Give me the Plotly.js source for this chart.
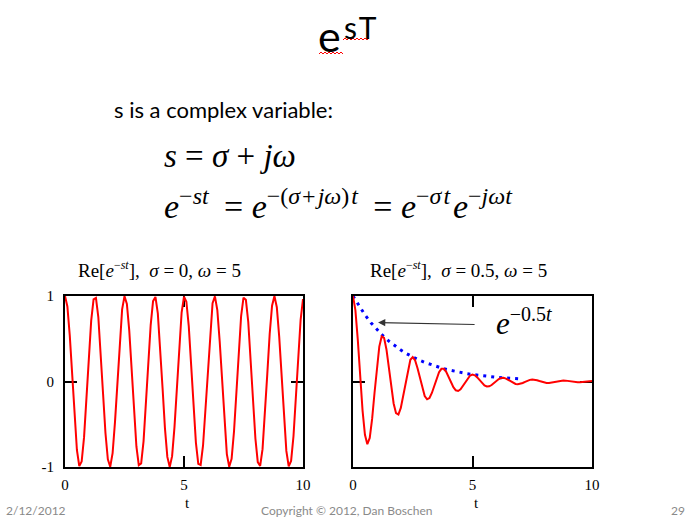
<!DOCTYPE html>
<html>
<head>
<meta charset="utf-8">
<script src="https://cdn.plot.ly/plotly-3.0.1.min.js"></script>
<style>
  html, body { margin: 0; padding: 0; background: #ffffff; }
  #chart { width: 694px; height: 530px; }
</style>
</head>
<body>
<div id="chart"></div>
<script>
// Sample times, t = 0 … 10 in steps of 0.1
const t = [];
for (let k = 0; k <= 100; k++) t.push(+(k * 0.1).toFixed(1));

// Re[e^{-st}] with sigma = 0, omega = 5
const reSigma0 = [
  1.0000, 0.8776, 0.5403, 0.0707, -0.4161, -0.8011, -0.9900, -0.9365, -0.6536, -0.2108,
  0.2837, 0.7087, 0.9602, 0.9766, 0.7539, 0.3466, -0.1455, -0.6020, -0.9111, -0.9972,
  -0.8391, -0.4755, 0.0044, 0.4833, 0.8439, 0.9978, 0.9074, 0.5949, 0.1367, -0.3549,
  -0.7597, -0.9785, -0.9577, -0.7000, -0.2752, 0.2194, 0.6603, 0.9395, 0.9887, 0.7958,
  0.4081, -0.0796, -0.5477, -0.8816, -1.0000, -0.8733, -0.5328, -0.0620, 0.4242, 0.8064,
  0.9912, 0.9333, 0.6469, 0.2021, -0.2921, -0.7149, -0.9626, -0.9756, -0.7481, -0.3383,
  0.1543, 0.6090, 0.9147, 0.9965, 0.8342, 0.4677, -0.0133, -0.4910, -0.8489, -0.9965,
  -0.9037, -0.5880, -0.1280, 0.3630, 0.7654, 0.9803, 0.9551, 0.6960, 0.2666, -0.2282,
  -0.6669, -0.9425, -0.9874, -0.7913, -0.3999, 0.0885, 0.5551, 0.8862, 0.9998, 0.8690,
  0.5253, 0.0530, -0.4322, -0.8120, -0.9923, -0.9286, -0.6401, -0.1930, 0.3006, 0.7216,
  0.9650
];

// Re[e^{-st}] with sigma = 0.5, omega = 5
const reSigma05 = [
  1.0000, 0.8348, 0.4889, 0.0609, -0.3407, -0.6239, -0.7334, -0.6600, -0.4381, -0.1344,
  0.1721, 0.4088, 0.5270, 0.5098, 0.3744, 0.1637, -0.0654, -0.2573, -0.3705, -0.3856,
  -0.3087, -0.1664, 0.0015, 0.1530, 0.2542, 0.2859, 0.2473, 0.1542, 0.0337, -0.0833,
  -0.1695, -0.2076, -0.1934, -0.1344, -0.0503, 0.0381, 0.1091, 0.1477, 0.1479, 0.1132,
  0.0552, -0.0102, -0.0671, -0.1027, -0.1108, -0.0920, -0.0534, -0.0059, 0.0385, 0.0696,
  0.0814, 0.0729, 0.0481, 0.0143, -0.0196, -0.0457, -0.0585, -0.0564, -0.0411, -0.0177,
  0.0077, 0.0289, 0.0412, 0.0427, 0.0340, 0.0181, -0.0005, -0.0172, -0.0284, -0.0316,
  -0.0273, -0.0169, -0.0035, 0.0094, 0.0189, 0.0230, 0.0214, 0.0148, 0.0054, -0.0044,
  -0.0122, -0.0164, -0.0164, -0.0125, -0.0060, 0.0013, 0.0075, 0.0114, 0.0123, 0.0102,
  0.0058, 0.0006, -0.0044, -0.0078, -0.0090, -0.0081, -0.0052, -0.0015, 0.0022, 0.0051,
  0.0065
];

// Decay envelope e^{-0.5t}, t = 0 … 7
const tEnv = [0, 0.25, 0.5, 0.75, 1, 1.25, 1.5, 1.75, 2, 2.25, 2.5, 2.75, 3, 3.25, 3.5,
  3.75, 4, 4.25, 4.5, 4.75, 5, 5.25, 5.5, 5.75, 6, 6.25, 6.5, 6.75, 7];
const envelope = [1.0000, 0.8825, 0.7788, 0.6873, 0.6065, 0.5353, 0.4724, 0.4169, 0.3679,
  0.3247, 0.2865, 0.2528, 0.2231, 0.1969, 0.1738, 0.1534, 0.1353, 0.1194, 0.1054, 0.0930,
  0.0821, 0.0724, 0.0639, 0.0564, 0.0498, 0.0439, 0.0388, 0.0342, 0.0302];

// Axis ticks
const xTicks = [0, 5, 10];
const xTickText = ['0', '5', '10'];
const yTicks = [-1, 0, 1];
const yTickText = ['-1', '0', '1'];

const W = 694, H = 530;
const px = x => x / W;
const py = y => 1 - y / H;

const serif = 'Liberation Serif, Times New Roman, serif';
const sans = 'Lato, Open Sans, sans-serif';
const NB = '\u00a0';   // non-breaking space
const HS = '\u200a';   // hair space
const TS = '\u2009';   // thin space

function xAxis(domain, anchor) {
  return {
    domain: domain, anchor: anchor, range: [0, 10],
    tickmode: 'array', tickvals: xTicks, ticktext: xTickText,
    ticks: 'inside', ticklen: 11, tickwidth: 2, tickcolor: '#000',
    showline: true, linewidth: 2, linecolor: '#000', mirror: 'allticks',
    showgrid: false, zeroline: false, layer: 'below traces',
    ticklabelstandoff: 3,
    tickfont: { family: serif, size: 15, color: '#000' }
  };
}
function yAxis(domain, anchor, labels) {
  return {
    domain: domain, anchor: anchor, range: [-1, 1],
    tickmode: 'array', tickvals: yTicks, ticktext: yTickText,
    showticklabels: labels,
    ticks: 'inside', ticklen: 12, tickwidth: 2, tickcolor: '#000',
    showline: true, linewidth: 2, linecolor: '#000', mirror: 'allticks',
    showgrid: false, zeroline: false, layer: 'below traces',
    ticklabelstandoff: 6,
    tickfont: { family: serif, size: 15, color: '#000' }
  };
}

const traces = [
  { x: t, y: reSigma0, xaxis: 'x', yaxis: 'y', mode: 'lines',
    line: { color: '#ff0000', width: 2 } },
  { x: tEnv, y: envelope, xaxis: 'x2', yaxis: 'y2', mode: 'lines',
    line: { color: '#0000ff', width: 3, dash: '3px,5px' } },
  { x: t, y: reSigma05, xaxis: 'x2', yaxis: 'y2', mode: 'lines',
    line: { color: '#ff0000', width: 2 } }
];

function note(text, x, y, size, family, extra) {
  return Object.assign({
    text: text, xref: 'paper', yref: 'paper', x: px(x), y: py(y),
    xanchor: 'left', yanchor: 'middle', showarrow: false,
    font: { family: family, size: size, color: '#000' }
  }, extra || {});
}

// superscript with an explicit size
const sup = (s, size) => '<sup><span style="font-size:' + size + 'px">' + s + '</span></sup>';

const eq2 = '<i>e</i>' + sup('−<i>st</i>', 24) + NB + TS + '=' + NB +
  '<i>e</i>' + sup('−(<i>σ</i>' + HS + '+' + HS + '<i>jω</i>)' + HS + '<i>t</i>', 24) +
  NB + TS + '=' + NB + '<i>e</i>' + sup('−<i>σ</i>' + HS + '<i>t</i>', 24) +
  HS + '<i>e</i>' + sup('−<i>jωt</i>', 24);

const plotTitle = sigma => 'Re[<i>e</i>' + sup('−<i>st</i>', 12) + '],' + NB + NB +
  '<i>σ</i>' + NB + '=' + NB + sigma + ',' + NB + '<i>ω</i>' + NB + '=' + NB + '5';

const grey = { family: sans, size: 12, color: '#8a8a8a' };

const annotations = [
  note('e', 316, 36, 43, sans),
  note('s' + HS + 'T', 342, 27, 30, sans),
  note('s is a complex variable:', 112, 110, 22, sans),
  note('<i>s</i>' + NB + '=' + NB + '<i>σ</i>' + NB + '+' + NB + '<i>jω</i>', 162, 156, 33, serif),
  note(eq2, 162, 204, 34, serif),
  note(plotTitle('0'), 76, 269, 19, serif),
  note(plotTitle('0.5'), 368, 269, 19, serif),
  note('<i>e</i>' + sup('−0.5<i>t</i>', 20), 494, 322, 31, serif),
  note('t', 187, 503, 15, serif, { xanchor: 'center' }),
  note('t', 476, 503, 15, serif, { xanchor: 'center' }),
  note('2/12/2012', 4, 510, 12, sans, { font: grey }),
  note('Copyright © 2012, Dan Boschen', 259, 510, 12, sans, { font: grey }),
  note('29', 669, 510, 12, sans, { font: grey }),
  // arrow pointing at the envelope curve
  { text: '', xref: 'x2', yref: 'y2', x: 1.05, y: 0.69, ax: 98, ay: 2,
    showarrow: true, arrowhead: 2, arrowsize: 1.2, arrowwidth: 1.2, arrowcolor: '#333' }
];

// wavy spell-check underline under the heading
function squiggle(x0, x1, y) {
  let d = 'M ' + px(x0) + ' ' + py(y);
  let up = true;
  for (let x = x0 + 2; x <= x1; x += 2) {
    d += ' L ' + px(x) + ' ' + py(up ? y - 2 : y);
    up = !up;
  }
  return { type: 'path', xref: 'paper', yref: 'paper', path: d,
           line: { color: '#ff0000', width: 1 } };
}

const layout = {
  width: W, height: H,
  margin: { l: 0, r: 0, t: 0, b: 0 },
  paper_bgcolor: '#ffffff', plot_bgcolor: '#ffffff',
  showlegend: false,
  xaxis: xAxis([px(65), px(303)], 'y'),
  yaxis: yAxis([py(467), py(296)], 'x', true),
  xaxis2: xAxis([px(353), px(592)], 'y2'),
  yaxis2: yAxis([py(467), py(296)], 'x2', false),
  annotations: annotations,
  shapes: [squiggle(319, 343, 54), squiggle(343, 370, 40)]
};

Plotly.newPlot('chart', traces, layout, { staticPlot: true, displayModeBar: false });
</script>
</body>
</html>
